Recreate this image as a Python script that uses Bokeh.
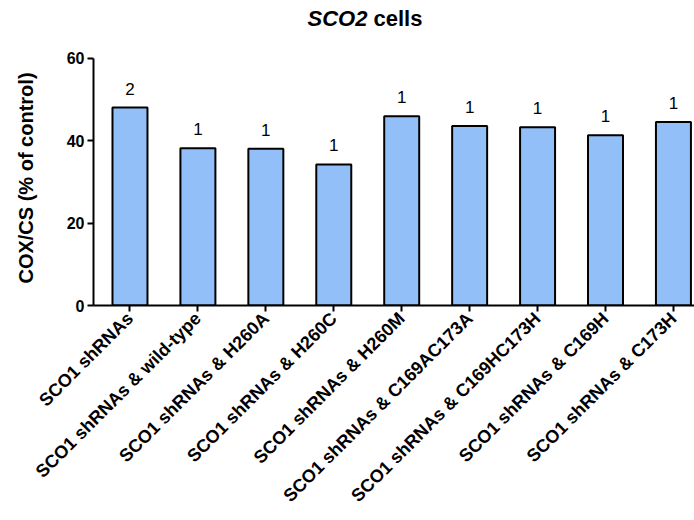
import math
from bokeh.plotting import figure
from bokeh.models import FixedTicker, Range1d, ColumnDataSource
from bokeh.core.properties import value
from bokeh.embed import file_html
from bokeh.resources import INLINE

categories = [
    "SCO1 shRNAs",
    "SCO1 shRNAs & wild-type",
    "SCO1 shRNAs & H260A",
    "SCO1 shRNAs & H260C",
    "SCO1 shRNAs & H260M",
    "SCO1 shRNAs & C169AC173A",
    "SCO1 shRNAs & C169HC173H",
    "SCO1 shRNAs & C169H",
    "SCO1 shRNAs & C173H",
]
values = [48.0, 38.1, 38.0, 34.2, 45.9, 43.5, 43.2, 41.3, 44.5]
n_labels = ["2", "1", "1", "1", "1", "1", "1", "1", "1"]
y_ticks = [0, 20, 40, 60]
title_italic = "SCO2"
title_rest = "cells"
y_title = "COX/CS (% of control)"

positions = list(range(len(categories)))
src = ColumnDataSource(dict(x=positions, top=values, n=n_labels, cat=categories))

FONT = "Liberation Sans"
W, H = 694, 520
FRAME_BOTTOM = 305            # px from top where y = 0 sits
PX_PER_UNIT = 247.5 / 60      # vertical scale
x_start, x_end = -0.537, 8.31
y_top = FRAME_BOTTOM / PX_PER_UNIT   # frame runs to the top edge (title lives inside)

p = figure(width=W, height=H, output_backend="svg", toolbar_location=None,
           title=None, x_range=Range1d(x_start, x_end), y_range=Range1d(0, y_top),
           min_border_left=93, min_border_right=0, min_border_top=0,
           min_border_bottom=H - FRAME_BOTTOM)
p.outline_line_color = None
p.grid.visible = False
p.background_fill_color = "white"

p.vbar(x="x", top="top", bottom=0, width=0.515, source=src,
       fill_color="#93BFF8", line_color="black", line_width=2)

p.text(x="x", y="top", text="n", source=src, text_align="center",
       text_baseline="alphabetic", y_offset=-19, text_font=value(FONT),
       text_font_size="17px", text_color="black")

# title: italic gene name + bold word, placed above the 0-60 axis span
title_x = x_start + (367 - 93) / 67.94
title_y = (FRAME_BOTTOM - 18) / PX_PER_UNIT
p.text(x=[title_x], y=[title_y], text=[title_italic], text_align="right",
       text_baseline="alphabetic", text_font=value(FONT),
       text_font_style="bold italic", text_font_size="22px", text_color="black")
p.text(x=[title_x], y=[title_y], text=[title_rest], text_align="left",
       x_offset=6, text_baseline="alphabetic", text_font=value(FONT),
       text_font_style="bold", text_font_size="22px", text_color="black")

xa = p.xaxis[0]
xa.ticker = FixedTicker(ticks=positions)
xa.major_label_overrides = {i: c for i, c in zip(positions, categories)}
xa.major_label_orientation = math.pi / 4
xa.major_label_text_font = FONT
xa.major_label_text_font_style = "bold"
xa.major_label_text_font_size = "18px"
xa.major_label_text_color = "black"
xa.axis_line_width = 2
xa.major_tick_line_width = 2
xa.major_tick_in = 0
xa.major_tick_out = 6
xa.minor_tick_line_color = None
xa.major_label_standoff = 4

ya = p.yaxis[0]
ya.ticker = FixedTicker(ticks=y_ticks)
ya.bounds = (y_ticks[0], y_ticks[-1])
ya.major_label_text_font = FONT
ya.major_label_text_font_style = "bold"
ya.major_label_text_font_size = "16px"
ya.major_label_text_color = "black"
ya.axis_line_width = 2
ya.major_tick_line_width = 2
ya.major_tick_in = 0
ya.major_tick_out = 6
ya.minor_tick_line_color = None
ya.major_label_standoff = 3
# trailing no-break spaces shift the centred label down onto the 0-60 span
ya.axis_label = y_title + "\u00a0" * 9
ya.axis_label_text_font = FONT
ya.axis_label_text_font_style = "bold"
ya.axis_label_text_font_size = "20px"
ya.axis_label_text_color = "black"
ya.axis_label_standoff = 27

open("out.html", "w").write(file_html(p, INLINE))
